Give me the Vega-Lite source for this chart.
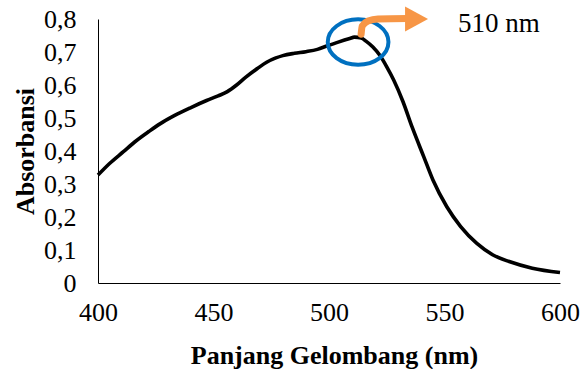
{
  "$schema": "https://vega.github.io/schema/vega-lite/v6.json",
  "width": 462,
  "height": 264,
  "autosize": {"type": "none"},
  "padding": {"left": 98, "top": 19, "right": 23, "bottom": 86},
  "background": "white",
  "config": {
    "view": {"stroke": null},
    "font": "Liberation Serif"
  },
  "datasets": {
    "spectrum": [
      {"nm": 400, "abs": 0.327}, {"nm": 405, "abs": 0.362}, {"nm": 411, "abs": 0.398},
      {"nm": 416, "abs": 0.428}, {"nm": 422, "abs": 0.459}, {"nm": 427, "abs": 0.483},
      {"nm": 433, "abs": 0.507}, {"nm": 440, "abs": 0.531}, {"nm": 447, "abs": 0.553},
      {"nm": 452, "abs": 0.567}, {"nm": 456, "abs": 0.58}, {"nm": 460, "abs": 0.6},
      {"nm": 464, "abs": 0.624}, {"nm": 469, "abs": 0.65}, {"nm": 473, "abs": 0.669},
      {"nm": 477, "abs": 0.682}, {"nm": 480, "abs": 0.689}, {"nm": 485, "abs": 0.696},
      {"nm": 490, "abs": 0.701}, {"nm": 495, "abs": 0.708}, {"nm": 499, "abs": 0.718},
      {"nm": 504, "abs": 0.73}, {"nm": 509, "abs": 0.741}, {"nm": 511, "abs": 0.745},
      {"nm": 514, "abs": 0.742}, {"nm": 516, "abs": 0.733}, {"nm": 519, "abs": 0.715},
      {"nm": 522, "abs": 0.69}, {"nm": 525, "abs": 0.655}, {"nm": 528, "abs": 0.615},
      {"nm": 532, "abs": 0.55}, {"nm": 536, "abs": 0.472}, {"nm": 541, "abs": 0.383},
      {"nm": 545, "abs": 0.312}, {"nm": 551, "abs": 0.231}, {"nm": 557, "abs": 0.171},
      {"nm": 564, "abs": 0.12}, {"nm": 571, "abs": 0.085}, {"nm": 578, "abs": 0.065},
      {"nm": 588, "abs": 0.045}, {"nm": 600, "abs": 0.032}
    ],
    "peakRing": [{"nm": 512.6, "abs": 0.73}],
    "arrowShaft": [
      {"nm": 513.9, "abs": 0.754}, {"nm": 514.4, "abs": 0.779},
      {"nm": 516.9, "abs": 0.794}, {"nm": 521.2, "abs": 0.8}, {"nm": 534.2, "abs": 0.8015}
    ],
    "arrowHead": [{"nm": 537.9, "abs": 0.8}],
    "peakLabel": [{"nm": 555.8, "abs": 0.7615, "label": "510 nm"}]
  },
  "layer": [
    {
      "data": {"name": "spectrum"},
      "mark": {"type": "line", "color": "black", "strokeWidth": 3.6, "interpolate": "monotone"},
      "encoding": {
        "x": {
          "field": "nm", "type": "quantitative",
          "scale": {"domain": [400, 600], "nice": false, "zero": false},
          "axis": {
            "values": [400, 450, 500, 550, 600],
            "tickCount": 5,
            "domainColor": "black",
            "domainWidth": 1,
            "ticks": false,
            "grid": false,
            "labelFlush": false,
            "labelOverlap": false,
            "labelColor": "black",
            "labelFont": "Liberation Serif",
            "labelFontSize": 26,
            "labelPadding": 16,
            "title": "Panjang Gelombang (nm)",
            "titleColor": "black",
            "titleFont": "Liberation Serif",
            "titleFontSize": 26,
            "titleFontWeight": "bold",
            "titleBaseline": "alphabetic",
            "titleX": 236,
            "titleY": 80
          }
        },
        "y": {
          "field": "abs", "type": "quantitative",
          "scale": {"domain": [0, 0.8], "nice": false},
          "axis": {
            "values": [0, 0.1, 0.2, 0.3, 0.4, 0.5, 0.6, 0.7, 0.8],
            "tickCount": 9,
            "format": ".1~f",
            "labelExpr": "replace(datum.label, '.', ',')",
            "domainColor": "black",
            "domainWidth": 1,
            "ticks": false,
            "grid": false,
            "labelFlush": false,
            "labelOverlap": false,
            "labelColor": "black",
            "labelFont": "Liberation Serif",
            "labelFontSize": 26,
            "labelPadding": 22,
            "title": "Absorbansi",
            "titleColor": "black",
            "titleFont": "Liberation Serif",
            "titleFontSize": 26,
            "titleFontWeight": "bold",
            "titleBaseline": "alphabetic",
            "titleX": -65,
            "titleY": 132
          }
        }
      }
    },
    {
      "data": {"name": "peakRing"},
      "mark": {
        "type": "point",
        "shape": "M -1 0 A 1 0.75 0 1 0 1 0 A 1 0.75 0 1 0 -1 0 Z",
        "size": 3684,
        "filled": false,
        "stroke": "#0070C0",
        "strokeWidth": 4,
        "opacity": 1
      },
      "encoding": {
        "x": {"field": "nm", "type": "quantitative"},
        "y": {"field": "abs", "type": "quantitative"}
      }
    },
    {
      "data": {"name": "arrowShaft"},
      "mark": {"type": "line", "color": "#F79646", "strokeWidth": 7, "interpolate": "monotone", "strokeCap": "round"},
      "encoding": {
        "x": {"field": "nm", "type": "quantitative"},
        "y": {"field": "abs", "type": "quantitative"}
      }
    },
    {
      "data": {"name": "arrowHead"},
      "mark": {
        "type": "point",
        "shape": "M -0.92 -1 L 0.92 0 L -0.92 1 Z",
        "size": 625,
        "filled": true,
        "fill": "#F79646",
        "strokeWidth": 0,
        "opacity": 1
      },
      "encoding": {
        "x": {"field": "nm", "type": "quantitative"},
        "y": {"field": "abs", "type": "quantitative"}
      }
    },
    {
      "data": {"name": "peakLabel"},
      "mark": {"type": "text", "align": "left", "baseline": "alphabetic", "font": "Liberation Serif", "fontSize": 27, "color": "black"},
      "encoding": {
        "x": {"field": "nm", "type": "quantitative"},
        "y": {"field": "abs", "type": "quantitative"},
        "text": {"field": "label"}
      }
    }
  ]
}
